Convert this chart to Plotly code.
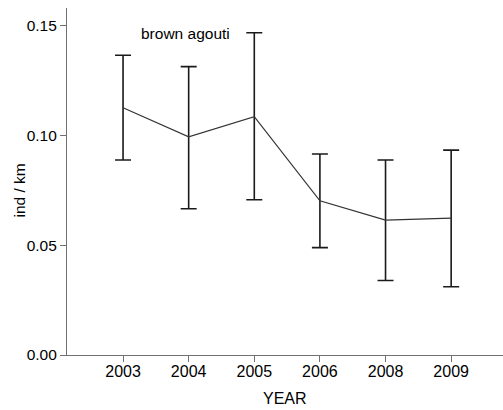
import plotly.graph_objects as go

years = ["2003", "2004", "2005", "2006", "2008", "2009"]
means = [0.1126, 0.0993, 0.1085, 0.0702, 0.0614, 0.0623]
upper = [0.1365, 0.1313, 0.1467, 0.0915, 0.0888, 0.0933]
lower = [0.0888, 0.0666, 0.0707, 0.0489, 0.0339, 0.0311]
label = "brown agouti"

err_plus = [u - m for u, m in zip(upper, means)]
err_minus = [m - l for m, l in zip(means, lower)]

fig = go.Figure()
fig.add_trace(go.Scatter(
    x=years, y=means, mode="lines",
    line=dict(color="#333333", width=1.2),
    error_y=dict(type="data", symmetric=False, array=err_plus, arrayminus=err_minus,
                 color="#1a1a1a", thickness=1.6, width=8),
    showlegend=False, hoverinfo="skip",
))

fam = "Liberation Sans, Arial, sans-serif"
font = dict(family=fam, size=16, color="#000000")
yfont = dict(family=fam, size=15.5, color="#000000")

fig.update_layout(
    width=503, height=410,
    margin=dict(l=67, r=0, t=8, b=55),
    paper_bgcolor="white", plot_bgcolor="white",
    font=font,
    xaxis=dict(type="category", range=[-0.854, 5.79], showline=True, linecolor="#707070",
               linewidth=1.2, ticks="outside", ticklen=6, tickcolor="#707070",
               showgrid=False, zeroline=False, tickfont=font, ticklabelstandoff=-4),
    yaxis=dict(range=[0, 0.158], tickvals=[0, 0.05, 0.10, 0.15], tickformat=".2f",
               showline=True, linecolor="#707070", linewidth=1.2, ticks="outside",
               ticklen=6, tickcolor="#707070", showgrid=False, zeroline=False,
               tickfont=yfont),
    annotations=[
        dict(text=label, xref="paper", yref="y", x=(232 - 67) / 436, y=0.1465,
             xanchor="right", yanchor="middle", showarrow=False, font=yfont),
        dict(text="ind / km", xref="paper", yref="paper", x=0, xshift=-48, y=0.5,
             yshift=-9, textangle=-90, xanchor="center", yanchor="middle",
             showarrow=False, font=yfont),
        dict(text="YEAR", xref="paper", yref="paper", x=0.5, y=0, yshift=-43,
             xanchor="center", yanchor="middle", showarrow=False, font=font),
    ],
)

fig.write_html("out.html")
